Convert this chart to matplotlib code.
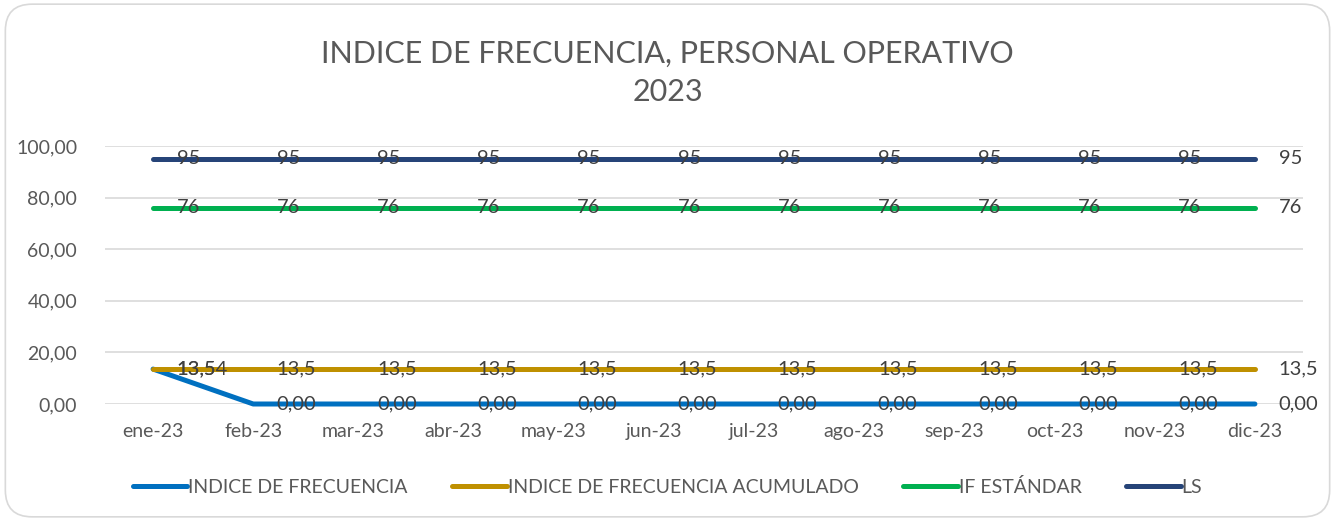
import matplotlib.pyplot as plt
from matplotlib.patches import FancyBboxPatch

# Data
meses = ["ene-23", "feb-23", "mar-23", "abr-23", "may-23", "jun-23",
         "jul-23", "ago-23", "sep-23", "oct-23", "nov-23", "dic-23"]
indice_frecuencia = [13.54, 0, 0, 0, 0, 0, 0, 0, 0, 0, 0, 0]
indice_acumulado = [13.5] * 12
if_estandar = [76] * 12
ls = [95] * 12

gris = "#595959"
plt.rcParams['font.family'] = ['Lato', 'DejaVu Sans']

fig = plt.figure(figsize=(13.35, 5.21), dpi=100)
ax = fig.add_axes([105 / 1335, 1 - 404 / 521, 1198 / 1335, 258 / 521])

# Rounded border
fig.patches.append(FancyBboxPatch((0.004, 0.008), 0.992, 0.984,
                                  boxstyle="round,pad=0,rounding_size=0.02",
                                  transform=fig.transFigure, fc="none",
                                  ec="#D9D9D9", lw=1.2, mutation_aspect=2.56))

x = range(len(meses))
series = [
    (indice_frecuencia, "#0070C0", "INDICE DE FRECUENCIA", "{:.2f}"),
    (indice_acumulado, "#BF9000", "INDICE DE FRECUENCIA ACUMULADO", "{:g}"),
    (if_estandar, "#00B050", "IF ESTÁNDAR", "{:g}"),
    (ls, "#264478", "LS", "{:g}"),
]

for vals, color, label, fmt in series:
    ax.plot(x, vals, color=color, lw=3.6, solid_capstyle="round",
            solid_joinstyle="round", label=label, clip_on=False, zorder=3)
    for xi, v in zip(x, vals):
        ax.annotate(fmt.format(v).replace(".", ","), (xi, v),
                    xytext=(17, 0), textcoords="offset points",
                    ha="left", va="center", fontsize=14.5, color="#404040",
                    zorder=4)

ax.set_xlim(-0.48, 11.48)
ax.set_ylim(0, 100)
ax.set_yticks(range(0, 101, 20))
ax.set_yticklabels([f"{v:.2f}".replace(".", ",") for v in range(0, 101, 20)])
ax.set_xticks(list(x))
ax.set_xticklabels(meses)
ax.tick_params(length=0, labelsize=14, colors=gris)
ax.tick_params(axis="y", pad=20)
ax.tick_params(axis="x", pad=14)
ax.grid(axis="y", color="#D9D9D9", lw=1.2)
ax.set_axisbelow(True)
for s in ax.spines.values():
    s.set_visible(False)

fig.text(0.5, 0.86, "INDICE DE FRECUENCIA, PERSONAL OPERATIVO\n2023",
         ha="center", va="center", fontsize=22, color=gris,
         linespacing=1.45)

fig.legend(loc="center", bbox_to_anchor=(0.5, 1 - 487 / 521), ncol=4,
           frameon=False, fontsize=14, handlelength=2.8, columnspacing=2.3,
           handletextpad=0.05, labelcolor=gris)

fig.savefig("out.png", dpi=100)
